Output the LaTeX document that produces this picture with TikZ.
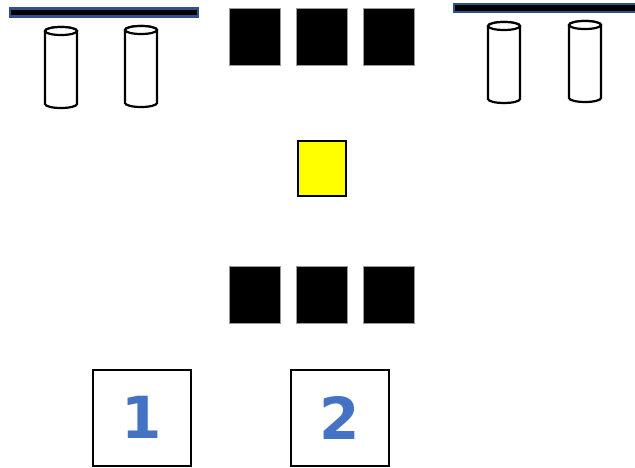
\documentclass[tikz,border=0pt]{standalone}
\usepackage{fontspec}
\usepackage{tikz}
\definecolor{barblue}{HTML}{2F528F}
\definecolor{digitblue}{HTML}{4472C4}
\definecolor{lampyellow}{HTML}{FFFF00}
\newfontfamily\digitfont{DejaVu Sans}

\begin{document}
\begin{tikzpicture}[x=1pt,y=-1pt,every node/.style={outer sep=0pt,inner sep=0pt,anchor=north west},
  rail/.style={draw=barblue,fill=black,line width=2.4pt,minimum height=8pt},
  tank/.style={draw=black,fill=white,line width=2.2pt},
  block/.style={draw=black!40,fill=black,line width=0.6pt,minimum width=51pt,minimum height=57pt},
  card/.style={draw=black,fill=white,line width=2pt,minimum width=98pt,minimum height=96pt,font=\digitfont\bfseries\fontsize{58}{58}\selectfont,text=digitblue}]
\useasboundingbox (0,0) rectangle (635,468);
% rails
\node[rail,minimum width=188pt] (r0) at (10.2,8.7) {};
\node[rail,minimum width=185pt] (r1) at (454.2,4.2) {};
% tanks (top centre x, top y)
\foreach \tx/\ty in {61/31,141/30,504/26,585/25}{
  \draw[tank] (\tx-16,\ty) -- (\tx-16,\ty+73) arc (180:0:16 and 4) -- (\tx+16,\ty) arc (360:180:16 and 4);
  \draw[tank] (\tx,\ty) ellipse (16 and 4);
}
% blocks
\node[block] (b0) at (229.3,8.3) {};
\node[block] (b1) at (296.3,8.3) {};
\node[block] (b2) at (363.3,8.3) {};
\node[draw=black,fill=lampyellow,line width=2.2pt,minimum width=48pt,minimum height=55pt] (y0) at (298,141) {};
\node[block] (b3) at (229.3,266.3) {};
\node[block] (b4) at (296.3,266.3) {};
\node[block] (b5) at (363.3,266.3) {};
% cards
\node[card] (c0) at (92.5,369.5) {1};
\node[card] (c1) at (290.5,369.5) {2};
\end{tikzpicture}
\end{document}
